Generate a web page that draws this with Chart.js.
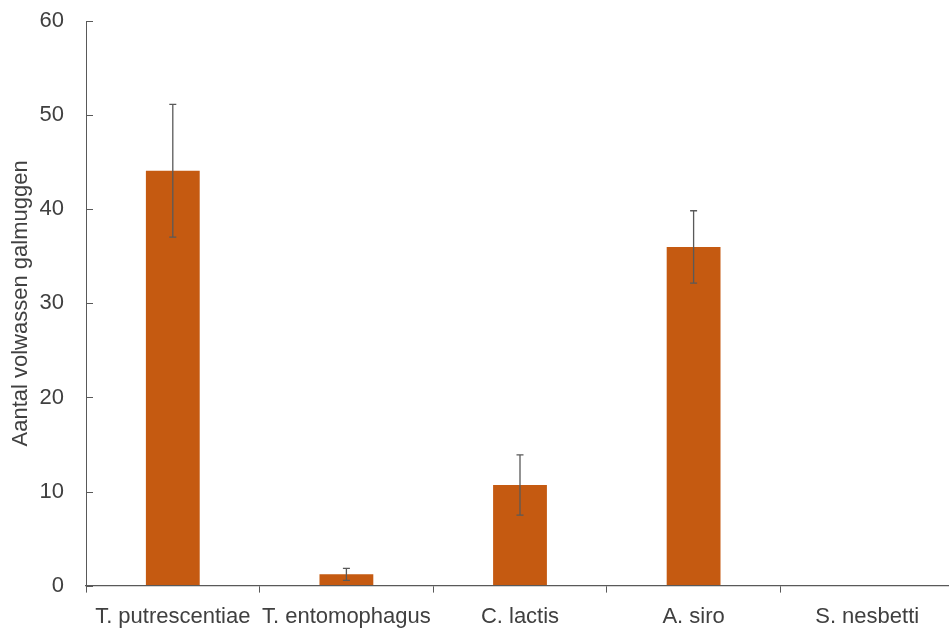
<!DOCTYPE html>
<html>
<head>
<meta charset="utf-8">
<script src="https://cdn.jsdelivr.net/npm/chart.js@4"></script>
<style>
  html, body { margin: 0; padding: 0; background: #fff; overflow: hidden; }
  #wrap { width: 949px; height: 630px; overflow: hidden; position: relative; }
  #box { width: 954px; height: 659px; position: absolute; top: -14px; left: 0; }
</style>
</head>
<body>
<div id="wrap"><div id="box"><canvas id="chart"></canvas></div></div>
<script>
// Species and mean counts of adult gall midges, with error (+/-)
const species = ['T. putrescentiae', 'T. entomophagus', 'C. lactis', 'A. siro', 'S. nesbetti'];
const counts = [44.1, 1.2, 10.7, 36.0, 0];
const errors = [7.05, 0.64, 3.2, 3.85, 0];
const yTicks = [0, 10, 20, 30, 40, 50, 60];

const AXIS = '#595959';
const TEXT = '#404040';
const FONT = "'Liberation Sans', Arial, sans-serif";

// error bars + inner y ticks, drawn from the scales
const extras = {
  id: 'extras',
  afterDatasetsDraw(chart) {
    const ctx = chart.ctx;
    const x = chart.scales.x, y = chart.scales.y;
    ctx.save();
    ctx.strokeStyle = AXIS;
    ctx.lineWidth = 1.3;
    counts.forEach((v, i) => {
      if (!errors[i]) return;
      const cx = x.getPixelForValue(i);
      const top = y.getPixelForValue(v + errors[i]);
      const bot = y.getPixelForValue(v - errors[i]);
      ctx.beginPath();
      ctx.moveTo(cx, top); ctx.lineTo(cx, bot);
      ctx.moveTo(cx - 3.5, top); ctx.lineTo(cx + 3.5, top);
      ctx.moveTo(cx - 3.5, bot); ctx.lineTo(cx + 3.5, bot);
      ctx.stroke();
    });
    ctx.lineWidth = 1;
    yTicks.forEach(t => {
      const py = Math.round(y.getPixelForValue(t)) + 0.5;
      ctx.beginPath();
      ctx.moveTo(chart.chartArea.left, py);
      ctx.lineTo(chart.chartArea.left + 7, py);
      ctx.stroke();
    });
    ctx.restore();
  }
};

new Chart(document.getElementById('chart'), {
  type: 'bar',
  data: {
    labels: species,
    datasets: [{
      data: counts,
      backgroundColor: '#C55A11',
      borderWidth: 0,
      barPercentage: 0.31,
      categoryPercentage: 1
    }]
  },
  options: {
    responsive: true,
    maintainAspectRatio: false,
    animation: false,
    layout: { padding: { top: 9, bottom: 4, right: 0, left: 0 } },
    plugins: { legend: { display: false }, tooltip: { enabled: false } },
    scales: {
      x: {
        offset: true,
        grid: { offset: true, drawOnChartArea: false, drawTicks: true, tickLength: 7, color: AXIS, lineWidth: 1 },
        border: { display: true, color: AXIS, width: 1.3 },
        ticks: { color: TEXT, font: { family: FONT, size: 22 }, padding: 11, maxRotation: 0, autoSkip: false }
      },
      y: {
        min: 0, max: 60,
        afterBuildTicks: s => { s.ticks = yTicks.map(v => ({ value: v })); },
        afterFit: s => { s.width = 86; },
        grid: { display: true, drawOnChartArea: false, drawTicks: false },
        border: { display: true, color: AXIS, width: 1 },
        ticks: { color: TEXT, font: { family: FONT, size: 22 }, padding: 22 },
        title: {
          display: true,
          text: 'Aantal volwassen galmuggen',
          color: TEXT,
          font: { family: FONT, size: 22 },
          padding: { top: 8, bottom: 0 }
        }
      }
    }
  },
  plugins: [extras]
});
</script>
</body>
</html>
